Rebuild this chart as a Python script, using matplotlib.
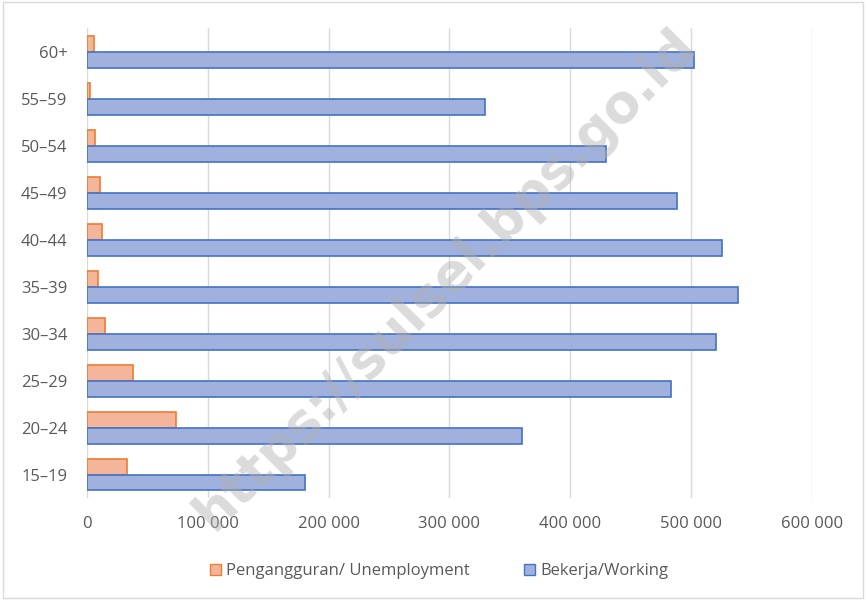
import matplotlib
matplotlib.use("Agg")
import matplotlib.pyplot as plt
from matplotlib.patches import Rectangle, Patch
from matplotlib.ticker import FuncFormatter
import numpy as np

# data (bottom to top)
age_groups = ["15–19", "20–24", "25–29", "30–34", "35–39",
              "40–44", "45–49", "50–54", "55–59", "60+"]
unemployment = [33400, 73800, 38100, 15200, 9400, 12400, 10500, 6300, 2700, 5500]
working = [180600, 360200, 483500, 520700, 538700, 525400, 488400, 429800, 329400, 502700]

lbl_unemp = "Pengangguran/ Unemployment"
lbl_work = "Bekerja/Working"

plt.rcParams['font.family'] = ['Open Sans', 'DejaVu Sans']
txt_col = '#595959'

fig = plt.figure(figsize=(8.66, 6.0), dpi=100, facecolor='white')
ax = fig.add_axes([0.1005, 0.17, 0.8371, 0.783])

y = np.arange(len(age_groups))
h = 0.34
ax.barh(y + h / 2, unemployment, height=h, color='#F4B69A', edgecolor='#ED7D31', linewidth=1.2, zorder=3)
ax.barh(y - h / 2, working, height=h, color='#A0B1DE', edgecolor='#4472C4', linewidth=1.2, zorder=3)

ax.set_xlim(0, 600000)
ax.set_ylim(-0.5, len(age_groups) - 0.5)
ax.set_xticks(np.arange(0, 600001, 100000))
ax.xaxis.set_major_formatter(FuncFormatter(lambda v, p: f"{int(v):,}".replace(",", " ")))
ax.set_yticks(y)
ax.set_yticklabels(age_groups)
ax.grid(axis='x', color='#D9D9D9', linewidth=1, zorder=0)
for s in ax.spines.values():
    s.set_visible(False)
ax.tick_params(axis='both', length=0, colors=txt_col, labelsize=12)
ax.tick_params(axis='x', pad=13)
ax.tick_params(axis='y', pad=14)

legend_elements = [
    Patch(facecolor='#F4B69A', edgecolor='#ED7D31', label=lbl_unemp),
    Patch(facecolor='#A0B1DE', edgecolor='#4472C4', label=lbl_work),
]
fig.legend(handles=legend_elements, loc='center', bbox_to_anchor=(0.507, 0.048), ncol=2,
           frameon=False, fontsize=12, labelcolor=txt_col, handlelength=0.7, handleheight=0.7,
           handletextpad=0.3, columnspacing=3.2)

# watermark
fig.text(0.515, 0.535, "https://sulsel.bps.go.id", rotation=45, fontsize=38, fontweight='bold',
         color='#B0B0B0', alpha=0.45, ha='center', va='center', family='DejaVu Sans', zorder=10)

# chart border
fig.patches.append(Rectangle((0.004, 0.004), 0.992, 0.992, transform=fig.transFigure,
                             fill=False, edgecolor='#D9D9D9', linewidth=1))

fig.savefig('out.png', dpi=100, facecolor='white')
